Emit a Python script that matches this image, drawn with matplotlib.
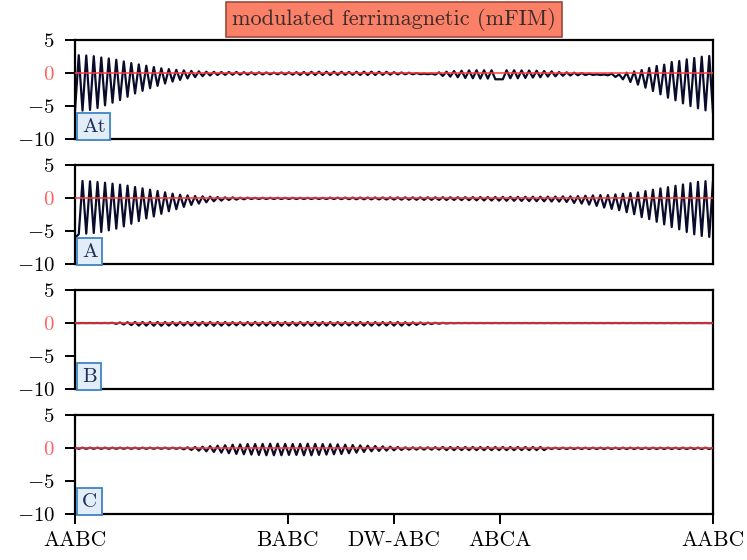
import numpy as np
import matplotlib
matplotlib.use("Agg")
import matplotlib.pyplot as plt

# ---------------- data ----------------
panel_labels = ["At", "A", "B", "C"]
title_text = "modulated ferrimagnetic (mFIM)"
xtick_labels = ["AABC", "BABC", "DW-ABC", "ABCA", "AABC"]
n_layers = 170  # x runs 0..170

# values on even layers (x = 0, 2, ..., 170) and odd layers (x = 1, 3, ..., 169)
At_even = [-5.7, -5.7, -5.6, -5.3, -4.9, -4.5, -4.1, -3.6, -3.1, -2.7,
           -2.3, -1.95, -1.6, -1.3, -1.05, -0.82, -0.62, -0.48, -0.38, -0.3,
           -0.28, -0.26, -0.25, -0.25, -0.24, -0.22, -0.2, -0.2, -0.22, -0.25,
           -0.28, -0.3, -0.3, -0.3, -0.3, -0.28, -0.27, -0.27, -0.3, -0.3,
           -0.3, -0.28, -0.25, -0.22, -0.2, -0.2,
           -0.18, -0.18, -0.25,
           -0.45, -0.55, -0.65, -0.75, -0.8, -0.85, -0.85, -0.95, -0.95, -0.8,
           -0.8, -0.75, -0.7, -0.65, -0.55, -0.5, -0.42, -0.38, -0.35, -0.32,
           -0.3, -0.3, -0.35, -0.6, -0.96, -1.36, -1.77, -2.22, -2.73, -3.23,
           -3.74, -4.14, -4.6, -5.0, -5.35, -5.66, -6.0]
At_odd = [2.7, 2.65, 2.55, 2.35, 2.2, 2.0, 1.75, 1.5, 1.3, 1.1,
          0.9, 0.72, 0.6, 0.48, 0.4, 0.32, 0.25, 0.2, 0.17, 0.15,
          0.15, 0.15, 0.12, 0.1, 0.1, 0.08, 0.06, 0.08, 0.1, 0.12,
          0.15, 0.18, 0.2, 0.2, 0.2, 0.18, 0.15, 0.18, 0.2, 0.2,
          0.2, 0.18, 0.12, 0.08, 0.05, 0.0,
          -0.1, -0.08, 0.1, 0.2, 0.3, 0.35, 0.4, 0.42, 0.42, 0.42,
          -0.95, 0.42, 0.42, 0.4, 0.38, 0.35, 0.3, 0.25, 0.15, 0.1,
          0.05, 0.0, -0.1, -0.2, -0.22, -0.1, -0.2, 0.05, 0.25, 0.45,
          0.76, 1.06, 1.26, 1.67, 1.82, 2.07, 2.27, 2.47, 2.58]

A_even = [-6.0,
          2.58, 2.53, 2.42, 2.32, 2.17, 2.02, 1.87, 1.67, 1.46, 1.26,
          1.06, 0.86, 0.66, 0.5, 0.4, 0.3, 0.25, 0.2, 0.15, 0.1,
          0.1, 0.05, 0.05,
          0.03, 0.03, 0.03, 0.03, 0.03, 0.03, 0.03, 0.03, 0.03, 0.03,
          0.05, 0.05, 0.06, 0.06, 0.07, 0.07, 0.08, 0.08, 0.09, 0.09,
          0.1, 0.1, 0.1, 0.11, 0.11, 0.12, 0.12,
          0.12, 0.13, 0.14, 0.15, 0.15, 0.16, 0.17, 0.18, 0.18, 0.19,
          0.2, 0.2, 0.21, 0.22,
          0.25, 0.25, 0.3, 0.35, 0.4, 0.45, 0.45, 0.55, 0.65, 0.75,
          0.85, 1.05, 1.25, 1.45, 1.65, 1.85, 2.05, 2.25, 2.45, 2.55,
          2.6]
A_odd = [-5.5,
         -5.4, -5.3, -5.15, -4.9, -4.65, -4.3, -3.9, -3.5, -3.1, -2.8,
         -2.4, -2.0, -1.7, -1.35, -1.05, -0.85, -0.65, -0.5, -0.4, -0.3,
         -0.25, -0.2,
         -0.15, -0.15, -0.15, -0.15, -0.15, -0.15, -0.15, -0.15, -0.15, -0.15,
         -0.15, -0.16, -0.17, -0.18, -0.19, -0.2, -0.21, -0.22, -0.23, -0.24,
         -0.25, -0.26, -0.27, -0.28, -0.28, -0.29, -0.3,
         -0.3, -0.32, -0.33, -0.35, -0.37, -0.38, -0.4, -0.42, -0.43, -0.45,
         -0.47, -0.49, -0.51, -0.53, -0.55,
         -0.6, -0.75, -0.85, -1.0, -1.2, -1.45, -1.65, -1.85, -2.15, -2.45,
         -2.9, -3.2, -3.6, -4.0, -4.4, -4.75, -5.15, -5.5, -5.75, -5.9]

B_even = [0.0, 0.0, 0.0, 0.0, 0.0,
          0.03, 0.08, 0.12,
          0.15, 0.15, 0.16, 0.16, 0.15, 0.15, 0.14, 0.15, 0.15, 0.16,
          0.16, 0.15, 0.14, 0.13, 0.13, 0.14, 0.15, 0.15, 0.16, 0.16,
          0.15, 0.15, 0.15, 0.16, 0.16, 0.15, 0.15, 0.14, 0.14, 0.15,
          0.15, 0.15, 0.14, 0.14, 0.15, 0.15,
          0.12, 0.1, 0.08, 0.05, 0.03, 0.02, 0.0,
          0.0, 0.0, 0.0, 0.0, 0.0, 0.0, 0.0, 0.0, 0.0, 0.0,
          0.0, 0.0, 0.0, 0.0, 0.0, 0.0, 0.0, 0.0, 0.0, 0.0,
          0.0, 0.0, 0.0, 0.0, 0.0, 0.0, 0.0, 0.0, 0.0, 0.0,
          0.0, 0.0, 0.0, 0.0, 0.0]
B_odd = [-0.02, -0.02, -0.02, -0.02, -0.02,
         -0.12, -0.22, -0.32,
         -0.4, -0.4, -0.42, -0.42, -0.4, -0.4, -0.38, -0.4, -0.4, -0.42,
         -0.42, -0.4, -0.38, -0.36, -0.36, -0.38, -0.4, -0.4, -0.42, -0.42,
         -0.4, -0.4, -0.4, -0.42, -0.42, -0.4, -0.4, -0.38, -0.38, -0.4,
         -0.4, -0.4, -0.38, -0.38, -0.4, -0.4,
         -0.35, -0.28, -0.22, -0.15, -0.1, -0.06, -0.03,
         -0.02, -0.02, -0.02, -0.02, -0.02, -0.02, -0.02, -0.02, -0.02, -0.02,
         -0.02, -0.02, -0.02, -0.02, -0.02, -0.02, -0.02, -0.02, -0.02, -0.02,
         -0.02, -0.02, -0.02, -0.02, -0.02, -0.02, -0.02, -0.02, -0.02, -0.02,
         -0.02, -0.02, -0.02, -0.02]

C_even = [0.05, 0.05, 0.05, 0.05, 0.05, 0.05, 0.05, 0.05, 0.05, 0.05,
          0.05, 0.05, 0.05, 0.05, 0.05,
          0.1, 0.15, 0.2, 0.28, 0.35, 0.42, 0.5, 0.55, 0.6,
          0.6, 0.62, 0.65, 0.65, 0.62, 0.6, 0.62, 0.65, 0.62, 0.6, 0.58, 0.55,
          0.5, 0.45, 0.4, 0.35, 0.3, 0.25, 0.2, 0.15,
          0.1, 0.1, 0.1, 0.1, 0.12,
          0.15, 0.15, 0.15, 0.15, 0.15, 0.15, 0.15, 0.15, 0.15, 0.15,
          0.15, 0.15, 0.15, 0.15,
          0.05, 0.05, 0.05, 0.05, 0.05, 0.05, 0.05, 0.05, 0.05, 0.05,
          0.05, 0.05, 0.05, 0.05, 0.05, 0.05, 0.05, 0.05, 0.05, 0.05,
          0.05, 0.05, 0.05]
C_odd = [-0.12, -0.12, -0.12, -0.12, -0.12, -0.12, -0.12, -0.12, -0.12, -0.12,
         -0.12, -0.12, -0.12, -0.12,
         -0.2, -0.3, -0.4, -0.5, -0.6, -0.7, -0.8, -0.9, -0.95, -1.0,
         -1.05, -1.1, -1.1, -1.1, -1.05, -1.05, -1.1, -1.1, -1.05, -1.0, -0.95,
         -0.9, -0.8, -0.7, -0.6, -0.5, -0.45, -0.4, -0.35, -0.3,
         -0.25, -0.25, -0.25, -0.25, -0.25,
         -0.32, -0.32, -0.32, -0.32, -0.32, -0.32, -0.32, -0.32, -0.32, -0.32,
         -0.32, -0.32, -0.32, -0.32,
         -0.15, -0.15, -0.15, -0.15, -0.15, -0.15, -0.15, -0.15, -0.15, -0.15,
         -0.15, -0.15, -0.15, -0.15, -0.15, -0.15, -0.15, -0.15, -0.15, -0.15,
         -0.15, -0.15]

panel_data = [(At_even, At_odd), (A_even, A_odd), (B_even, B_odd), (C_even, C_odd)]

# ---------------- style ----------------
plt.rcParams['font.family'] = 'serif'
plt.rcParams['font.serif'] = ['cmr10']
plt.rcParams['mathtext.fontset'] = 'cm'
plt.rcParams['axes.formatter.use_mathtext'] = True
plt.rcParams['axes.unicode_minus'] = True

fig = plt.figure(figsize=(7.47, 5.6), dpi=100)
W, H = 747, 560
left, right = 75, 713
tops = [40, 165, 290, 415]
ax_h = 99

line_color = "#0b0b2b"
zero_color = "#ff3b3b"
fs_y = 15
fs_x = 15.5
fs_lab = 15
fs_title = 16

x = np.arange(n_layers + 1)
xticks = [0, n_layers / 3, n_layers / 2, 2 * n_layers / 3, n_layers]

axes = []
for k, (lab, (ev, od)) in enumerate(zip(panel_labels, panel_data)):
    y = np.empty(n_layers + 1)
    y[0::2] = ev
    y[1::2] = od
    ax = fig.add_axes([left / W, 1 - (tops[k] + ax_h) / H, (right - left) / W, ax_h / H])
    ax.plot(x, y, color=line_color, lw=1.6, zorder=2)
    ax.axhline(0, color=zero_color, lw=1.1, zorder=3)
    ax.set_xlim(0, n_layers)
    ax.set_ylim(-10, 5)
    ax.set_yticks([5, 0, -5, -10])
    ax.set_yticklabels([r"$5$", r"$0$", r"$-5$", r"$-10$"], fontsize=fs_y)
    ax.get_yticklabels()[1].set_color("#ff6262")
    for s in ax.spines.values():
        s.set_linewidth(1.6)
    ax.tick_params(axis='y', length=7, width=1.4, pad=7.5)
    ax.set_xticks(xticks)
    if k < 3:
        ax.tick_params(axis='x', bottom=False, labelbottom=False)
    else:
        ax.set_xticklabels(xtick_labels, fontsize=fs_x)
        ax.tick_params(axis='x', length=7, width=1.4, pad=5)
    ax.text(0.011, 0.033, lab, transform=ax.transAxes, ha='left', va='bottom',
            fontsize=fs_lab, color="#1a2f5a", zorder=5,
            bbox=dict(boxstyle='square,pad=0.22', facecolor="#e3edf7",
                      edgecolor="#3d85c6", linewidth=1.3))
    axes.append(ax)

fig.text((left + right) / 2 / W, 1 - 19.5 / H, title_text, ha='center', va='center',
         fontsize=fs_title, color="#3a2b2b",
         bbox=dict(boxstyle='square,pad=0.28', facecolor="#fb8068",
                   edgecolor="#9c4a3c", linewidth=1.2))

fig.savefig("out.png", dpi=100)
